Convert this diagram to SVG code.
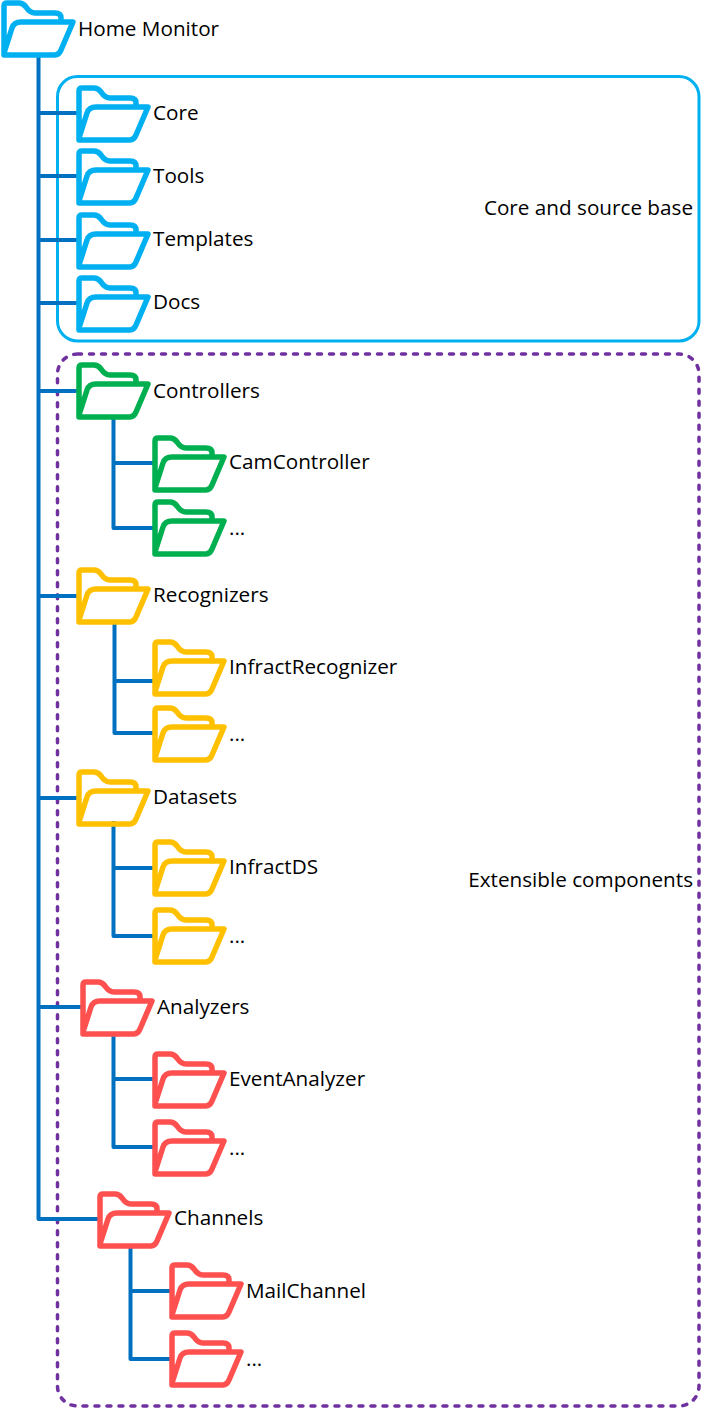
<svg xmlns="http://www.w3.org/2000/svg" width="702" height="1409" viewBox="0 0 702 1409">
<style>
text{font-family:"Open Sans","Noto Sans","Liberation Sans",sans-serif;font-size:20.7px;fill:#000}
.f{fill:none;stroke-width:5.5;stroke-linejoin:round;stroke-linecap:round}
.b{stroke:#00B0F0}.g{stroke:#00B050}.y{stroke:#FFC000}.r{stroke:#FF5050}
.c{fill:none;stroke:#0070C0;stroke-width:4;stroke-linejoin:round;stroke-linecap:butt}
</style>
<defs>
<g id="fo">
<path d="M3 55V6Q3 3 6 3H18Q22 3 25 7Q29 13 34 13H54Q60 13 60 18V21M3 55H54Q58 55 60 50L72 22H20Q13 22 11 28L3 53"/>
</g>
</defs>
<rect id="core-group" x="57.5" y="76.5" width="641.5" height="264.5" rx="20" fill="none" stroke="#00B0F0" stroke-width="3"/>
<rect id="ext-group" x="57.5" y="354" width="641.5" height="1052" rx="20" fill="none" stroke="#7030A0" stroke-width="3.5" stroke-dasharray="4 8" stroke-linecap="round"/>
<g id="connectors">
<path class="c" d="M38.5 57V1219H98M38.5 113H77M38.5 176H77M38.5 240H77M38.5 303H77M38.5 391H77M38.5 596H77M38.5 798H77M38.5 1007H81"/>
<path class="c" d="M113.5 418V528H153M113.5 463H153"/>
<path class="c" d="M114.5 623V733H153M114.5 681H153"/>
<path class="c" d="M113.5 821V936H153M113.5 868H153"/>
<path class="c" d="M113.5 1032V1147H153M113.5 1079H153"/>
<path class="c" d="M130.5 1245V1359H170M130.5 1291H170"/>
</g>
<g id="home"><use href="#fo" x="1" y="0" class="f b"/><text x="78" y="36">Home Monitor</text></g>
<g id="core"><use href="#fo" x="76" y="85" class="f b"/><text x="153" y="120">Core</text></g>
<g id="tools"><use href="#fo" x="76" y="148" class="f b"/><text x="153" y="183">Tools</text></g>
<g id="templates"><use href="#fo" x="76" y="212" class="f b"/><text x="153" y="246">Templates</text></g>
<g id="docs"><use href="#fo" x="76" y="275" class="f b"/><text x="153" y="309">Docs</text></g>
<g id="controllers"><use href="#fo" x="76" y="362" class="f g"/><text x="153" y="398">Controllers</text></g>
<g id="camcontroller"><use href="#fo" x="152" y="435" class="f g"/><text x="229" y="469">CamController</text></g>
<g id="controllers-more"><use href="#fo" x="152" y="499" class="f g"/><text x="229" y="535">...</text></g>
<g id="recognizers"><use href="#fo" x="76" y="567" class="f y"/><text x="153" y="602">Recognizers</text></g>
<g id="infractrecognizer"><use href="#fo" x="152" y="639" class="f y"/><text x="229" y="674">InfractRecognizer</text></g>
<g id="recognizers-more"><use href="#fo" x="152" y="705" class="f y"/><text x="229" y="741">...</text></g>
<g id="datasets"><use href="#fo" x="76" y="769" class="f y"/><text x="153" y="804">Datasets</text></g>
<g id="infractds"><use href="#fo" x="152" y="839" class="f y"/><text x="229" y="874">InfractDS</text></g>
<g id="datasets-more"><use href="#fo" x="152" y="907" class="f y"/><text x="229" y="943">...</text></g>
<g id="analyzers"><use href="#fo" x="80" y="979" class="f r"/><text x="157" y="1014">Analyzers</text></g>
<g id="eventanalyzer"><use href="#fo" x="152" y="1051" class="f r"/><text x="229" y="1086">EventAnalyzer</text></g>
<g id="analyzers-more"><use href="#fo" x="152" y="1119" class="f r"/><text x="229" y="1155">...</text></g>
<g id="channels"><use href="#fo" x="97" y="1191" class="f r"/><text x="174" y="1225">Channels</text></g>
<g id="mailchannel"><use href="#fo" x="169" y="1262" class="f r"/><text x="246" y="1298">MailChannel</text></g>
<g id="channels-more"><use href="#fo" x="169" y="1330" class="f r"/><text x="246" y="1366">...</text></g>
<text id="core-label" x="693" y="215" text-anchor="end">Core and source base</text>
<text id="ext-label" x="693" y="887" text-anchor="end">Extensible components</text>
</svg>
